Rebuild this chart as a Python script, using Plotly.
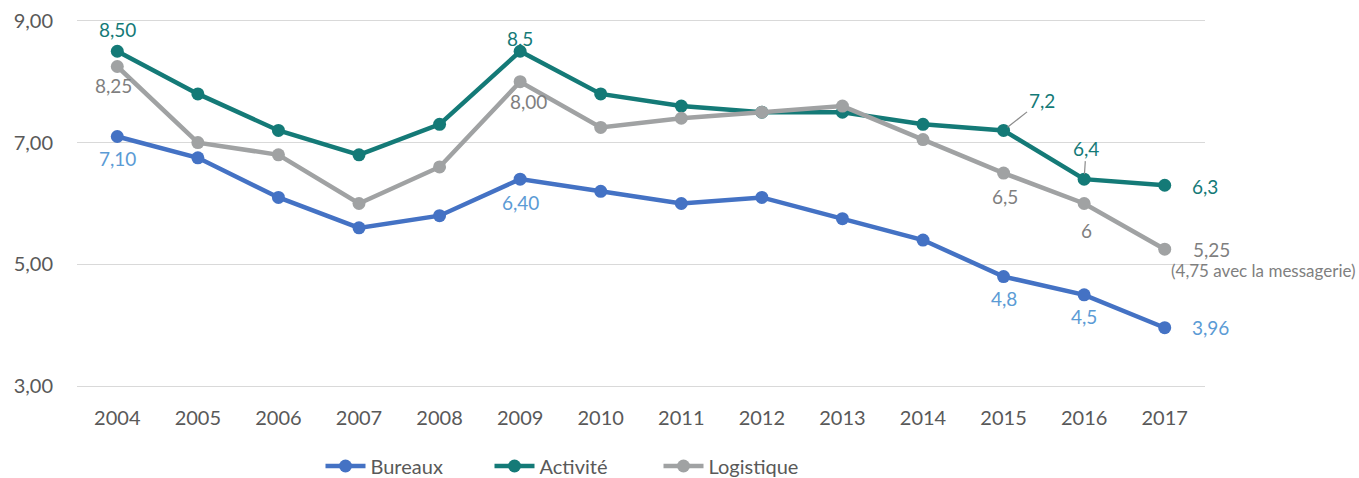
import plotly.graph_objects as go

years = ["2004", "2005", "2006", "2007", "2008", "2009", "2010",
         "2011", "2012", "2013", "2014", "2015", "2016", "2017"]
bureaux = [7.10, 6.75, 6.10, 5.60, 5.80, 6.40, 6.20, 6.00, 6.10, 5.75, 5.40, 4.80, 4.50, 3.96]
activite = [8.50, 7.80, 7.20, 6.80, 7.30, 8.50, 7.80, 7.60, 7.50, 7.50, 7.30, 7.20, 6.40, 6.30]
logistique = [8.25, 7.00, 6.80, 6.00, 6.60, 8.00, 7.25, 7.40, 7.50, 7.60, 7.05, 6.50, 6.00, 5.25]
y_ticks = [3, 5, 7, 9]
note_2017 = "(4,75 avec la messagerie)"

FONT = "Lato, 'Open Sans', sans-serif"
C_BUR, C_BUR_LBL = "#4472C4", "#5B9BD5"
C_ACT = "#147A77"
C_LOG, C_LOG_LBL = "#A0A2A3", "#7F7F7F"

fig = go.Figure()
for name, vals, col in [("Bureaux", bureaux, C_BUR),
                        ("Activité", activite, C_ACT),
                        ("Logistique", logistique, C_LOG)]:
    fig.add_trace(go.Scatter(
        x=years, y=vals, name=name, mode="lines+markers",
        line=dict(color=col, width=4.5),
        marker=dict(color=col, size=13),
    ))


def fmt(v, dec):
    return f"{v:.{dec}f}".replace(".", ",")


def label(series, year, dec, color, ax, ay, arrow=False):
    i = years.index(year)
    fig.add_annotation(
        x=i, y=series[i], text=fmt(series[i], dec),
        showarrow=True, ax=ax, ay=ay,
        arrowwidth=1.2 if arrow else 0.1,
        arrowcolor="#8C8C8C" if arrow else "rgba(0,0,0,0)",
        arrowhead=0, standoff=5 if arrow else 0,
        font=dict(family=FONT, size=19, color=color),
    )


# Bureaux labels
label(bureaux, "2004", 2, C_BUR_LBL, 0, 22)
label(bureaux, "2009", 2, C_BUR_LBL, 0, 23)
label(bureaux, "2015", 1, C_BUR_LBL, 0, 22)
label(bureaux, "2016", 1, C_BUR_LBL, 0, 22)
label(bureaux, "2017", 2, C_BUR_LBL, 46, 0)

# Activité labels
label(activite, "2004", 2, C_ACT, 0, -22)
label(activite, "2009", 1, C_ACT, 0, -13)
label(activite, "2015", 1, C_ACT, 38, -30, arrow=True)
label(activite, "2016", 1, C_ACT, 2, -31, arrow=True)
label(activite, "2017", 1, C_ACT, 40, 1)

# Logistique labels
label(logistique, "2004", 2, C_LOG_LBL, -4, 19)
label(logistique, "2009", 2, C_LOG_LBL, 8, 20)
label(logistique, "2015", 1, C_LOG_LBL, 1, 23)
label(logistique, "2016", 0, C_LOG_LBL, 2, 27)
label(logistique, "2017", 2, C_LOG_LBL, 47, 0)
fig.add_annotation(
    x=len(years) - 1, y=logistique[-1], text=note_2017, showarrow=False,
    xshift=99, yshift=-21,
    font=dict(family=FONT, size=17, color=C_LOG_LBL),
)

fig.update_layout(
    width=1359, height=478,
    margin=dict(l=77, r=154, t=19, b=90),
    paper_bgcolor="white", plot_bgcolor="white",
    font=dict(family=FONT, color="#595959"),
    showlegend=True,
    legend=dict(
        orientation="h", xref="container", x=574 / 1359, xanchor="center",
        yref="container", y=1 - 466 / 478, yanchor="middle",
        font=dict(family=FONT, size=20, color="#595959"),
        entrywidth=114, entrywidthmode="pixels", itemwidth=40,
    ),
)
fig.update_xaxes(
    type="category", range=[-0.5, 13.5], showgrid=False, zeroline=False,
    showline=False, ticks="", automargin=False, ticklabelstandoff=16,
    tickfont=dict(family=FONT, size=20, color="#595959"),
)
fig.update_yaxes(
    range=[2.97, 9.03], tickvals=y_ticks,
    ticktext=[fmt(v, 2) for v in y_ticks],
    showgrid=True, gridcolor="#D9D9D9", gridwidth=1.3, zeroline=False,
    showline=False, ticks="", ticklabelstandoff=23, automargin=False,
    tickfont=dict(family=FONT, size=20, color="#595959"),
)

fig.write_html("out.html")
